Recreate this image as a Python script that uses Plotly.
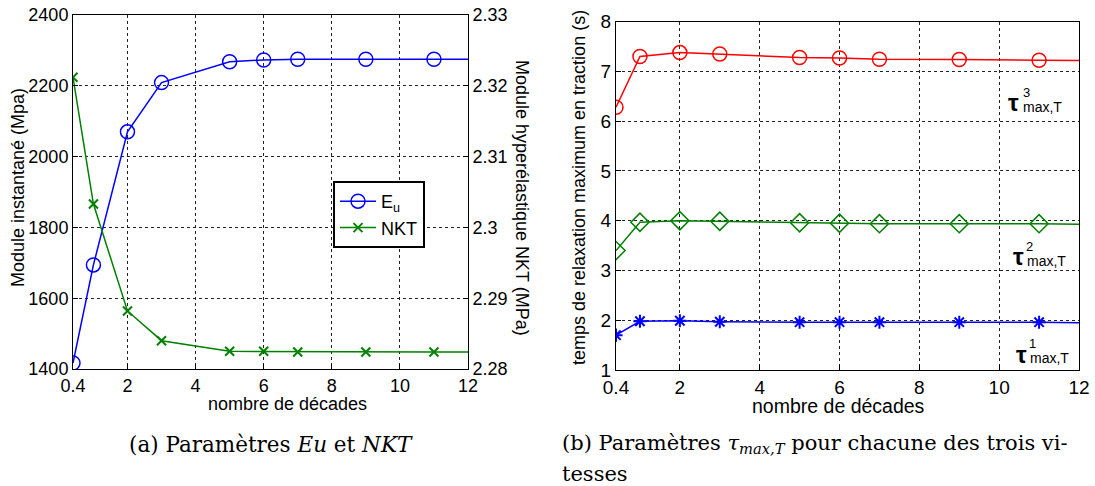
import plotly.graph_objects as go

# ---- data ----
decades = [0.4, 1, 2, 3, 5, 6, 7, 9, 11, 12]
eu = [1417, 1694, 2070, 2209, 2268, 2273, 2275, 2275, 2275, 2275]
nkt = [2.3212, 2.3033, 2.2882, 2.2840, 2.2825, 2.2825, 2.2824, 2.2824, 2.2824, 2.2824]
tau3 = [6.28, 7.30, 7.38, 7.35, 7.28, 7.27, 7.245, 7.24, 7.225, 7.22]
tau2 = [3.40, 3.97, 4.00, 3.99, 3.96, 3.95, 3.94, 3.94, 3.94, 3.93]
tau1 = [1.70, 1.98, 1.99, 1.97, 1.96, 1.96, 1.96, 1.96, 1.96, 1.95]

xtick_vals = [0.4, 2, 4, 6, 8, 10, 12]
xtick_text = ["0.4", "2", "4", "6", "8", "10", "12"]
eu_ticks = [1400, 1600, 1800, 2000, 2200, 2400]
nkt_ticks = [2.28, 2.29, 2.30, 2.31, 2.32, 2.33]
nkt_text = ["2.28", "2.29", "2.3", "2.31", "2.32", "2.33"]
tau_ticks = [1, 2, 3, 4, 5, 6, 7, 8]

W, H = 1095, 486
def px(x):
    return x / W
def py(y):
    return 1 - y / H

BLUE = "#0000ff"
GREEN = "#008000"
RED = "#ff0000"
FONT = "Liberation Sans, Arial, sans-serif"
SERIF = "DejaVu Serif, serif"

fig = go.Figure()

def add_series(x, y, color, symbol, size, name, xa, ya, legend, lw=1.5, mlw=1.5):
    fig.add_trace(go.Scatter(
        x=x[:-1], y=y[:-1], mode="lines+markers", name=name,
        xaxis=xa, yaxis=ya, showlegend=legend,
        line=dict(color=color, width=lw),
        marker=dict(symbol=symbol, size=size, color=color, line=dict(color=color, width=mlw)),
    ))
    fig.add_trace(go.Scatter(
        x=x[-2:], y=y[-2:], mode="lines", showlegend=False, hoverinfo="skip",
        xaxis=xa, yaxis=ya, line=dict(color=color, width=lw),
    ))

# left chart
add_series(decades, eu, BLUE, "circle-open", 14, "E<sub>u</sub>", "x", "y", True)
add_series(decades, nkt, GREEN, "x-thin-open", 9, "NKT", "x", "y2", True, mlw=2)
# right chart
add_series(decades, tau3, RED, "circle-open", 14, "tau3", "x2", "y3", False)
add_series(decades, tau2, GREEN, "diamond-open", 14, "tau2", "x2", "y3", False)
add_series(decades, tau1, BLUE, "asterisk-open", 11, "tau1", "x2", "y3", False, mlw=2)

axis_common = dict(
    showline=True, linecolor="black", linewidth=1, mirror=True,
    ticks="inside", ticklen=5, tickcolor="black", automargin=False,
    ticklabeloverflow="allow",
    showgrid=True, gridcolor="#222222", gridwidth=1, griddash="3px,3px",
    zeroline=False, tickfont=dict(family=FONT, size=18, color="black"),
)

dom_x1 = [px(73), px(468)]
dom_y1 = [py(369), py(15)]
dom_x2 = [px(616), px(1079)]
dom_y2 = [py(370), py(21.7)]

fig.update_layout(
    width=W, height=H, margin=dict(l=0, r=0, t=0, b=0, autoexpand=False),
    paper_bgcolor="white", plot_bgcolor="white",
    xaxis=dict(domain=dom_x1, range=[0.4, 12], tickvals=xtick_vals, ticktext=xtick_text,
               anchor="y", **axis_common),
    yaxis=dict(domain=dom_y1, range=[1400, 2400], tickvals=eu_ticks, anchor="x", **{**axis_common, "mirror": False}),
    yaxis2=dict(range=[2.28, 2.33], tickvals=nkt_ticks, ticktext=nkt_text, overlaying="y",
                side="right", anchor="x", **{**axis_common, "showgrid": False, "mirror": False}),
    xaxis2=dict(domain=dom_x2, range=[0.4, 12], tickvals=xtick_vals, ticktext=xtick_text,
                anchor="y3", **{**axis_common, "tickfont": dict(family=FONT, size=19, color="black")}),
    yaxis3=dict(domain=dom_y2, range=[1, 8], tickvals=tau_ticks, anchor="x2",
                **{**axis_common, "tickfont": dict(family=FONT, size=19, color="black")}),
    legend=dict(x=px(333), y=py(181), xanchor="left", yanchor="top",
                bgcolor="white", bordercolor="black", borderwidth=2,
                font=dict(family=FONT, size=18, color="black"),
                tracegroupgap=0, itemwidth=36),
    showlegend=True,
)

ann = []
def text(x, y, t, size=17, angle=0, family=FONT, xanchor="center"):
    ann.append(dict(x=px(x), y=py(y), xref="paper", yref="paper", text=t, showarrow=False,
                    textangle=angle, xanchor=xanchor, yanchor="middle",
                    font=dict(family=family, size=size, color="black")))

# axis titles
text(18, 188, "Module instantané (Mpa)", 18, -90)
text(522, 198, "Module hyperélastique NKT (MPa)", 18, 90)
text(287, 404, "nombre de décades", 18)
text(838, 406, "nombre de décades", 19.5)
text(579, 188, "temps de relaxation maximum en traction (s)", 18, -90)

# tau labels
for tx, ty, sup, sx, sy, subx, suby in [
    (1013, 103, "3", 1026, 92, 1042, 107),
    (1018, 256, "2", 1029, 246, 1046, 261),
    (1021, 354, "1", 1032, 343, 1049, 358),
]:
    text(tx, ty, "<b>τ</b>", 24)
    text(sx, sy, sup, 13)
    text(subx, suby, "max,T", 14)

# captions
text(271, 444, "(a) Paramètres <i>Eu</i> et <i>NKT</i>", 21.5, family=SERIF)
text(560, 444, "(b) Paramètres <i>τ<sub>max,T</sub></i> pour chacune des trois vi-", 21,
     family=SERIF, xanchor="left")
text(560, 474, "tesses", 21, family=SERIF, xanchor="left")

fig.update_layout(annotations=ann)
fig.write_html("out.html", config={"displayModeBar": False},
               post_script="document.body.style.margin='0';document.body.style.overflow='hidden';")
